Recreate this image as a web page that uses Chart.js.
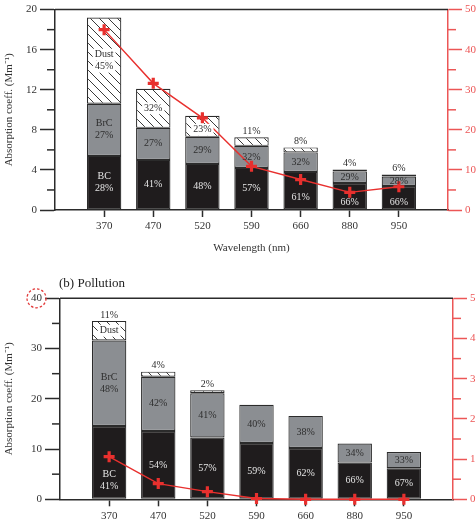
<!DOCTYPE html>
<html><head><meta charset="utf-8">
<script src="https://cdn.jsdelivr.net/npm/chart.js@4.4.1/dist/chart.umd.min.js"></script>
<style>
html,body{margin:0;padding:0;background:#fff;}
#wrap{position:relative;width:476px;height:528px;overflow:hidden;background:#fff;}
canvas{position:absolute;left:0;}
</style></head><body>
<div id="wrap">
<canvas id="c1" width="476" height="260" style="top:0"></canvas>
<canvas id="c2" width="476" height="268" style="top:260px"></canvas>
</div>
<script>
// ---------- data ----------
const wavelengths = ['370','470','520','590','660','880','950'];

// panel (a) - top
const topBC   = [5.4, 5.0, 4.6, 4.2, 3.8, 2.7, 2.4];
const topBrC  = [5.2, 3.2, 2.7, 2.2, 1.95, 1.15, 0.95];
const topDust = [8.6, 3.9, 2.1, 0.85, 0.5, 0.2, 0.2];
const topRed  = [45, 31.6, 23, 10.9, 7.6, 4.4, 5.8];
const topPctBC   = [28, 41, 48, 57, 61, 66, 66];
const topPctBrC  = [27, 27, 29, 32, 32, 29, 28];
const topPctDust = [45, 32, 23, 11, 8, 4, 6];

// panel (b) Pollution - bottom
const botBC   = [14.6, 13.6, 12.3, 11.2, 10.2, 7.3, 6.2];
const botBrC  = [17.0, 10.8, 8.8, 7.6, 6.4, 3.8, 3.2];
const botDust = [3.9, 1.0, 0.6, null, null, null, null];
const botRed  = [1.06, 0.39, 0.19, 0.02, 0, 0, 0];
const botPctBC   = [41, 54, 57, 59, 62, 66, 67];
const botPctBrC  = [48, 42, 41, 40, 38, 34, 33];
const botPctDust = [11, 4, 2, null, null, null, null];

const componentNames = ['BC', 'BrC', 'Dust'];
const leftTicksTop = {min:0, max:20, step:4};
const rightTicksTop = {min:0, max:50, step:10};
const leftTicksBot = {min:0, max:40, step:10};
const rightTicksBot = {min:0, max:5, step:1};

// ---------- styling ----------
const FONT = '"Liberation Serif", "Times New Roman", serif';
const RED = '#e8302e';
const AXRED = '#ec5656';
const INK = '#2b2b2b';
const TXT = '#333333';

const padded = ['', ...wavelengths, ''];
const pad = a => [null, ...a, null];

function hatchPattern() {
  const s = 9, c = document.createElement('canvas');
  c.width = s; c.height = s;
  const g = c.getContext('2d');
  g.fillStyle = '#ffffff'; g.fillRect(0, 0, s, s);
  g.strokeStyle = '#3a3a3a'; g.lineWidth = 1;
  g.beginPath(); g.moveTo(0, 0); g.lineTo(s, s); g.stroke();
  return g.createPattern(c, 'repeat');
}

function labelPlugin(pcts) {
  return {
    id: 'segLabels',
    afterDatasetsDraw(chart) {
      const ctx = chart.ctx;
      ctx.save();
      ctx.font = '10px ' + FONT;
      ctx.textAlign = 'center';
      ctx.textBaseline = 'middle';
      const colors = ['#e4e4e4', '#2e2e2e', '#2e2e2e'];
      const LH = 12;
      const lineMeta = chart.getDatasetMeta(3);
      for (let d = 0; d < 3; d++) {
        const meta = chart.getDatasetMeta(d);
        meta.data.forEach((el, i) => {
          const k = i - 1;
          if (k < 0 || k >= wavelengths.length) return;
          const p = pcts[d][k];
          if (p == null) return;
          let stackTop = el.y;
          for (let dd = 0; dd < 3; dd++) {
            const e2 = chart.getDatasetMeta(dd).data[i];
            const v = chart.data.datasets[dd].data[i];
            if (v != null && e2 && isFinite(e2.y)) stackTop = Math.min(stackTop, e2.y);
          }
          const hasVal = chart.data.datasets[d].data[i] != null;
          const top = el.y, bot = el.base, h = bot - top;
          const name = k === 0 ? componentNames[d] : null;
          const lines = name ? [name, p + '%'] : [p + '%'];
          const cx = el.x;
          const markerY = lineMeta.data[i] ? lineMeta.data[i].y : null;
          const place = (ls) => {
            let cy = (top + bot) / 2;
            const half = (ls.length - 1) * LH / 2;
            if (d !== 1 && markerY != null && Math.abs(cy - markerY) < 14 + half) {
              const below = bot - markerY, above = markerY - top;
              if (below >= above) cy = Math.min(markerY + 18 + half, bot - 7 - half);
              else cy = Math.max(markerY - 18 - half, top + 7 + half);
            }
            return cy;
          };
          const drawLines = (ls, cy, clearBg) => {
            const y0 = cy - (ls.length - 1) * LH / 2;
            ls.forEach((t, j) => {
              if (clearBg) {
                const w = ctx.measureText(t).width + 4;
                const fs = ctx.fillStyle;
                ctx.fillStyle = '#ffffff';
                ctx.fillRect(cx - w / 2, y0 + j * LH - 6, w, 12);
                ctx.fillStyle = fs;
              }
              ctx.fillText(t, cx, y0 + j * LH);
            });
          };
          ctx.fillStyle = colors[d];
          if (d < 2) {
            drawLines(lines, place(lines), false);
          } else {
            if (hasVal && h >= lines.length * LH + 6) {
              drawLines(lines, place(lines), true);
            } else if (hasVal && name && h >= 16) {
              drawLines([name], (top + bot) / 2, true);
              ctx.fillStyle = '#2e2e2e';
              ctx.fillText(p + '%', cx, stackTop - 6);
            } else {
              ctx.fillStyle = '#2e2e2e';
              ctx.fillText(p + '%', cx, stackTop - 6);
            }
          }
        });
      }
      ctx.restore();
    }
  };
}

function framePlugin(leftT, rightT, opts) {
  return {
    id: 'frame',
    afterDraw(chart) {
      const {ctx, chartArea: a, scales} = chart;
      ctx.save();
      ctx.lineWidth = 1.5;
      ctx.strokeStyle = INK;
      ctx.beginPath(); ctx.moveTo(a.left, a.top); ctx.lineTo(a.right, a.top); ctx.stroke();
      for (let v = leftT.min + leftT.step / 2; v < leftT.max; v += leftT.step) {
        const y = scales.y.getPixelForValue(v);
        ctx.beginPath(); ctx.moveTo(a.left - 8, y); ctx.lineTo(a.left, y); ctx.stroke();
      }
      ctx.strokeStyle = AXRED;
      for (let v = rightT.min + rightT.step / 2; v < rightT.max; v += rightT.step) {
        const y = scales.y2.getPixelForValue(v);
        ctx.beginPath(); ctx.moveTo(a.right, y); ctx.lineTo(a.right + 8, y); ctx.stroke();
      }
      if (opts && opts.title) {
        ctx.fillStyle = '#222';
        ctx.font = '13px ' + FONT;
        ctx.textAlign = 'left';
        ctx.textBaseline = 'middle';
        ctx.fillText(opts.title, a.left - 1, a.top - 15);
      }
      if (opts && opts.circleTick != null) {
        const ys = scales.y;
        const y = ys.getPixelForValue(opts.circleTick);
        ctx.font = '11px ' + FONT;
        const w = ctx.measureText(String(opts.circleTick)).width;
        const cx = ys.right - 15 - 3 - w / 2;
        ctx.strokeStyle = '#e23b3b';
        ctx.lineWidth = 1.3;
        ctx.setLineDash([2.5, 2]);
        ctx.beginPath(); ctx.arc(cx, y, 9.5, 0, Math.PI * 2); ctx.stroke();
        ctx.setLineDash([]);
      }
      ctx.restore();
    }
  };
}

function buildChart(canvasId, d, cfg) {
  const hatch = hatchPattern();
  const barCommon = {
    stack: 's', yAxisID: 'y', order: 1, borderColor: INK, borderWidth: 1.2,
    borderSkipped: false, categoryPercentage: 1, barPercentage: 0.7
  };
  return new Chart(document.getElementById(canvasId), {
    type: 'bar',
    data: {
      labels: padded,
      datasets: [
        Object.assign({label: 'BC', data: pad(d.bc), backgroundColor: '#1f1c1d'}, barCommon),
        Object.assign({label: 'BrC', data: pad(d.brc), backgroundColor: '#8b8e92'}, barCommon),
        Object.assign({label: 'Dust', data: pad(d.dust), backgroundColor: hatch}, barCommon),
        {
          type: 'line', label: 'ratio', data: pad(d.red), yAxisID: 'y2', order: 0,
          borderColor: RED, borderWidth: 1.4, tension: 0, clip: false,
          pointStyle: 'cross', pointRadius: 5.5, pointBorderWidth: 3.2,
          pointBorderColor: RED, pointBackgroundColor: RED
        }
      ]
    },
    options: {
      responsive: false,
      animation: false,
      devicePixelRatio: 1,
      layout: {padding: {top: cfg.padTop, left: 0, right: 0, bottom: 0}, autoPadding: false},
      plugins: {legend: {display: false}, tooltip: {enabled: false}, title: {display: false}},
      scales: {
        x: {
          type: 'category', offset: false, stacked: true,
          grid: {
            offset: false, drawOnChartArea: false, drawTicks: true, tickLength: 7, tickWidth: 1.5,
            tickColor: c => (c.index === 0 || c.index === padded.length - 1) ? 'rgba(0,0,0,0)' : INK
          },
          border: {color: INK, width: 1.5},
          ticks: {font: {family: FONT, size: 11}, color: TXT, padding: 3, autoSkip: false, maxRotation: 0},
          title: {display: cfg.xTitle != null, text: cfg.xTitle || '', font: {family: FONT, size: 11}, color: TXT, padding: {top: 0, bottom: 5}},
          afterFit: s => { s.height = cfg.xHeight; }
        },
        y: {
          position: 'left', stacked: true, min: d.lt.min, max: d.lt.max,
          ticks: {stepSize: d.lt.step, font: {family: FONT, size: 11}, color: TXT, padding: 3},
          grid: {drawOnChartArea: false, tickLength: 15, tickColor: INK, tickWidth: 1.5},
          border: {color: INK, width: 1.5},
          title: {display: true, text: 'Absorption coeff. (Mm\u207B\u00B9)', font: {family: FONT, size: 11}, color: TXT, padding: {top: 3, bottom: 0}},
          afterFit: s => { s.width = cfg.leftW; }
        },
        y2: {
          position: 'right', min: d.rt.min, max: d.rt.max,
          ticks: {stepSize: d.rt.step, font: {family: FONT, size: 11}, color: AXRED, padding: 3},
          grid: {drawOnChartArea: false, tickLength: 14, tickColor: AXRED, tickWidth: 1.5},
          border: {color: AXRED, width: 1.5},
          afterFit: s => { s.width = cfg.rightW; }
        }
      }
    },
    plugins: [labelPlugin(d.pcts), framePlugin(d.lt, d.rt, cfg.frame)]
  });
}

buildChart('c1', {
  bc: topBC, brc: topBrC, dust: topDust, red: topRed,
  pcts: [topPctBC, topPctBrC, topPctDust],
  lt: leftTicksTop, rt: rightTicksTop
}, {padTop: 7.5, xHeight: 50, leftW: 55, rightW: 28, xTitle: 'Wavelength (nm)', frame: {}});

buildChart('c2', {
  bc: botBC, brc: botBrC, dust: botDust, red: botRed,
  pcts: [botPctBC, botPctBrC, botPctDust],
  lt: leftTicksBot, rt: rightTicksBot
}, {padTop: 38.3, xHeight: 28.7, leftW: 60, rightW: 23, xTitle: null, frame: {title: '(b) Pollution', circleTick: 40}});
</script>
</body></html>
